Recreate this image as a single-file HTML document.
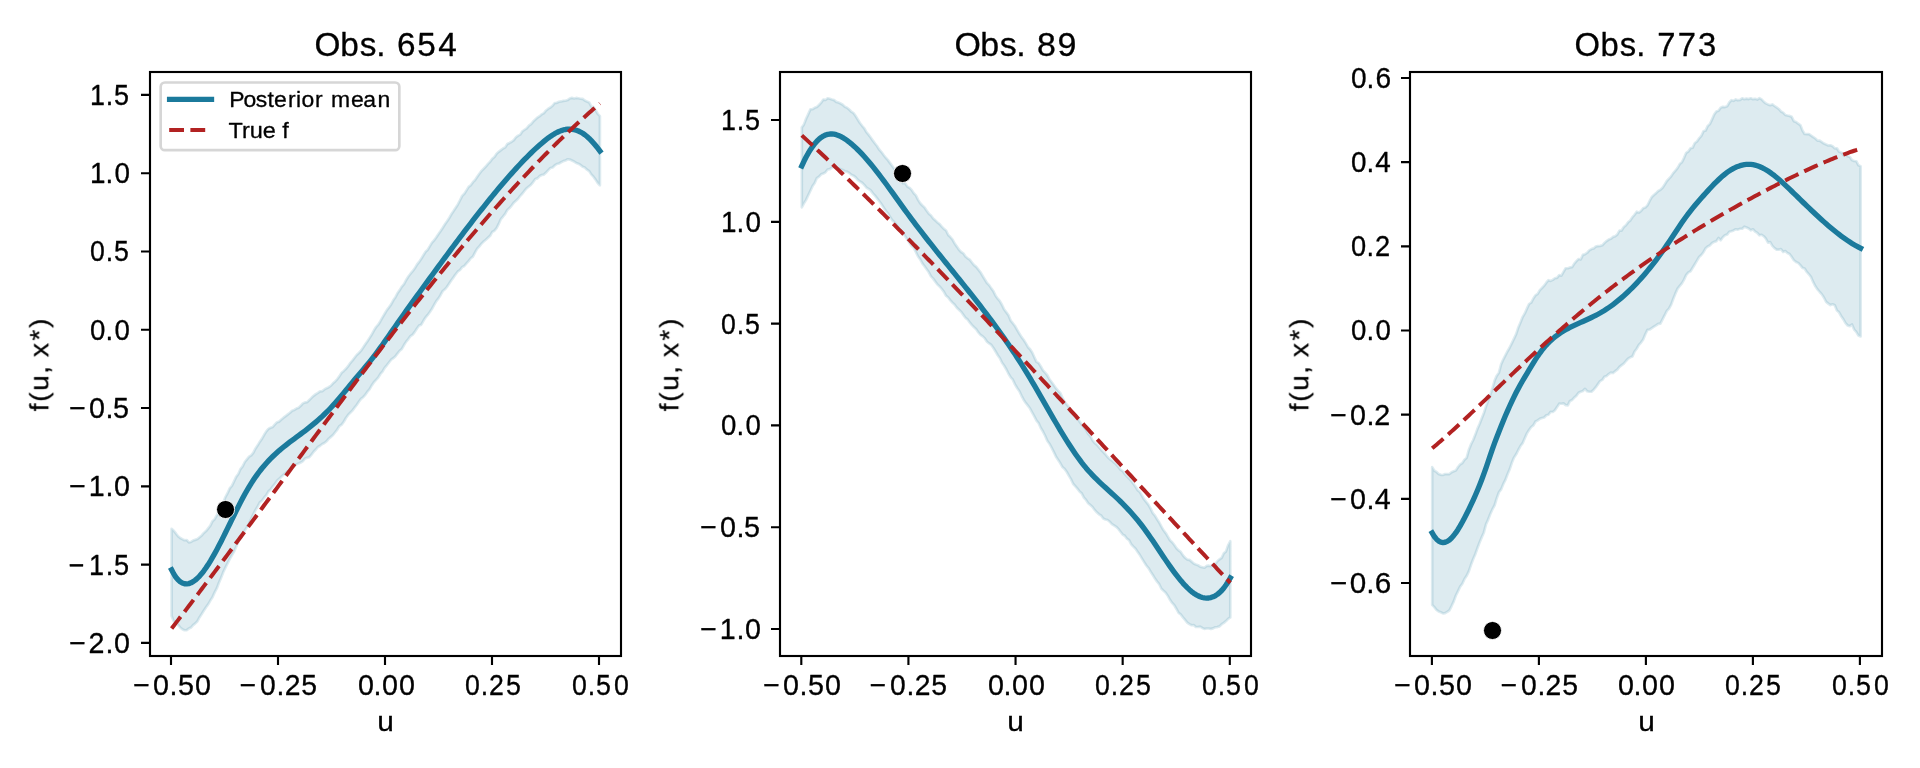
<!DOCTYPE html>
<html lang="en"><head><meta charset="utf-8"><title>Posterior mean vs true f</title>
<style>
html,body{margin:0;padding:0;background:#fff;}
body{width:1920px;height:768px;overflow:hidden;font-family:"Liberation Sans",sans-serif;}
svg{display:block;}
svg text{font-family:"Liberation Sans",sans-serif;fill:#000;stroke:#000;stroke-width:.3px;stroke-linejoin:round;}
.band{fill:#1b7a9c;fill-opacity:.15;stroke:#1b7a9c;stroke-opacity:.15;stroke-width:2.67;stroke-linejoin:round;}
.mean{fill:none;stroke:#1b7a9c;stroke-width:5.33;stroke-linecap:square;stroke-linejoin:round;}
.true{fill:none;stroke:#b22222;stroke-width:4;stroke-dasharray:14.8 6.4;stroke-linejoin:round;}
.spine{fill:none;stroke:#000;stroke-width:2.13;stroke-linejoin:miter;}
.tick{stroke:#000;stroke-width:2.13;fill:none;}
</style></head>
<body>
<svg width="1920" height="768" viewBox="0 0 1920 768">
<rect width="1920" height="768" fill="#fff"/>

<g id="panel1">
<clipPath id="clip1"><rect x="150" y="71.8" width="471" height="584"/></clipPath>
<g clip-path="url(#clip1)">
<path class="band" d="M171.6 528.85 L173.75 530.75 L175.9 533.45 L178.06 536.29 L180.21 537.99 L182.36 539.18 L184.51 540.26 L186.67 540.02 L188.82 542.37 L190.97 541.99 L193.12 540.58 L195.27 539.86 L197.43 539.11 L199.58 537.18 L201.73 535.43 L203.88 532.91 L206.04 531.04 L208.19 528.38 L210.34 525.64 L212.49 521.13 L214.65 519.2 L216.8 515.28 L218.95 510.53 L221.1 507.5 L223.25 502.5 L225.41 497.04 L227.56 493.18 L229.71 488.35 L231.86 485.93 L234.02 481.43 L236.17 476.84 L238.32 474 L240.47 469.06 L242.62 466.39 L244.78 461.99 L246.93 459.3 L249.08 456.66 L251.23 455.32 L253.39 452.68 L255.54 448.45 L257.69 445.32 L259.84 441.66 L261.99 438.65 L264.15 434.79 L266.3 431.4 L268.45 428.85 L270.6 427.71 L272.76 427.01 L274.91 424.44 L277.06 422.19 L279.21 421.59 L281.37 419.55 L283.52 417.67 L285.67 416.07 L287.82 414.42 L289.97 412.8 L292.13 410.7 L294.28 409.96 L296.43 408.54 L298.58 407.76 L300.74 405.83 L302.89 403.38 L305.04 402.41 L307.19 402.11 L309.34 399.97 L311.5 397.84 L313.65 395.85 L315.8 394.15 L317.95 392.93 L320.11 391.3 L322.26 391.14 L324.41 389.46 L326.56 388.15 L328.72 387.22 L330.87 385.75 L333.02 383.27 L335.17 381.38 L337.32 379.04 L339.48 376.16 L341.63 372.72 L343.78 370.92 L345.93 368.79 L348.09 366.18 L350.24 363.02 L352.39 360.6 L354.54 357.75 L356.69 355.01 L358.85 352.98 L361 350.64 L363.15 347.56 L365.3 344.34 L367.46 341.26 L369.61 337.86 L371.76 334.48 L373.91 330.52 L376.06 327.07 L378.22 324.68 L380.37 321.22 L382.52 317.33 L384.67 313.74 L386.83 310.14 L388.98 307.37 L391.13 304.36 L393.28 300.29 L395.44 297.17 L397.59 293.02 L399.74 290.1 L401.89 286.53 L404.04 284.05 L406.2 279.96 L408.35 276.51 L410.5 273.69 L412.65 271.19 L414.81 268.31 L416.96 264.63 L419.11 261.92 L421.26 258.71 L423.41 255.21 L425.57 251.7 L427.72 249.73 L429.87 246.12 L432.02 242.61 L434.18 240.24 L436.33 237.26 L438.48 233.98 L440.63 231.03 L442.78 227.68 L444.94 224.24 L447.09 221.29 L449.24 217.97 L451.39 214.27 L453.55 211.06 L455.7 207.67 L457.85 204.43 L460 200.24 L462.16 195.91 L464.31 193.75 L466.46 190.38 L468.61 186.9 L470.76 185.2 L472.92 182.18 L475.07 179.99 L477.22 176.8 L479.37 173.73 L481.53 170.91 L483.68 168.71 L485.83 166.53 L487.98 163.93 L490.13 161.77 L492.29 158.71 L494.44 156.95 L496.59 153.68 L498.74 151.84 L500.9 150.18 L503.05 148.5 L505.2 147.4 L507.35 144.05 L509.51 142.94 L511.66 141.74 L513.81 140.12 L515.96 137.27 L518.11 135.63 L520.27 134.61 L522.42 131.25 L524.57 129.75 L526.72 128.35 L528.88 125.71 L531.03 124.19 L533.18 121.58 L535.33 119.51 L537.48 117.54 L539.64 116.16 L541.79 114.35 L543.94 113.06 L546.09 110.42 L548.25 108.67 L550.4 107.52 L552.55 105.79 L554.7 103 L556.85 102.8 L559.01 101.79 L561.16 101.43 L563.31 100.85 L565.46 100.78 L567.62 100.09 L569.77 98.51 L571.92 97.86 L574.07 98.47 L576.23 97.93 L578.38 98.24 L580.53 98.72 L582.68 98.92 L584.83 100.55 L586.99 101.61 L589.14 102.43 L591.29 106.41 L593.44 107.1 L595.6 110.3 L597.75 113.79 L599.9 116.08 L599.9 185.36 L597.75 183.02 L595.6 179.63 L593.44 176.72 L591.29 174.38 L589.14 171.06 L586.99 169.68 L584.83 167.59 L582.68 166.86 L580.53 164.93 L578.38 163.76 L576.23 162.96 L574.07 161.58 L571.92 160.57 L569.77 159.57 L567.62 159.25 L565.46 160.54 L563.31 161.12 L561.16 162.27 L559.01 163.48 L556.85 163.99 L554.7 165.43 L552.55 167.57 L550.4 168.06 L548.25 170.16 L546.09 172.56 L543.94 174.59 L541.79 175.03 L539.64 176.04 L537.48 178.37 L535.33 178.97 L533.18 182.1 L531.03 184.66 L528.88 186.42 L526.72 188.22 L524.57 190.68 L522.42 193.53 L520.27 195.82 L518.11 198.84 L515.96 200.75 L513.81 202.63 L511.66 205.55 L509.51 208.03 L507.35 209.89 L505.2 213.81 L503.05 216.53 L500.9 219.07 L498.74 223.93 L496.59 228.2 L494.44 230.72 L492.29 231.94 L490.13 235.82 L487.98 237.8 L485.83 239.76 L483.68 241.46 L481.53 243.65 L479.37 246.31 L477.22 248.67 L475.07 252.41 L472.92 256.59 L470.76 258.31 L468.61 261.11 L466.46 263.39 L464.31 266 L462.16 267.12 L460 270 L457.85 271.45 L455.7 274.2 L453.55 277.37 L451.39 280.2 L449.24 283.42 L447.09 286.76 L444.94 289.32 L442.78 291 L440.63 294.94 L438.48 298.4 L436.33 301.05 L434.18 304.85 L432.02 308.76 L429.87 312.07 L427.72 314.96 L425.57 317.43 L423.41 320.78 L421.26 324.66 L419.11 325.54 L416.96 328.46 L414.81 331.87 L412.65 334.63 L410.5 336.07 L408.35 339.06 L406.2 341.66 L404.04 345.07 L401.89 348.94 L399.74 350.78 L397.59 353.41 L395.44 356.23 L393.28 358.14 L391.13 359.7 L388.98 362.5 L386.83 365.3 L384.67 367.82 L382.52 371.52 L380.37 373.97 L378.22 377.57 L376.06 379.88 L373.91 382.25 L371.76 385.38 L369.61 389.21 L367.46 391.66 L365.3 394.83 L363.15 397.2 L361 398.84 L358.85 401.75 L356.69 405.03 L354.54 407.67 L352.39 410.6 L350.24 412.72 L348.09 414.94 L345.93 418.01 L343.78 421.71 L341.63 424.66 L339.48 426.07 L337.32 429.57 L335.17 432.28 L333.02 435.04 L330.87 436.88 L328.72 438.69 L326.56 441.27 L324.41 443.04 L322.26 444.03 L320.11 445.77 L317.95 446.96 L315.8 449.53 L313.65 451.76 L311.5 454.66 L309.34 457.13 L307.19 457.69 L305.04 458.53 L302.89 461.19 L300.74 462.52 L298.58 463.41 L296.43 464.39 L294.28 465.56 L292.13 467.56 L289.97 469.89 L287.82 471.23 L285.67 473.06 L283.52 474.74 L281.37 476.82 L279.21 478.85 L277.06 480.72 L274.91 483.92 L272.76 486.44 L270.6 489.55 L268.45 491.38 L266.3 495.14 L264.15 497.67 L261.99 500.68 L259.84 502.41 L257.69 506.45 L255.54 510 L253.39 514.05 L251.23 518.79 L249.08 523.42 L246.93 527.1 L244.78 530.5 L242.62 534.28 L240.47 538.35 L238.32 541.67 L236.17 546.71 L234.02 551.66 L231.86 555.44 L229.71 559.04 L227.56 563.39 L225.41 567.67 L223.25 572.18 L221.1 577.67 L218.95 582.84 L216.8 588.46 L214.65 592.39 L212.49 597.29 L210.34 600.55 L208.19 604.31 L206.04 607.25 L203.88 610.49 L201.73 614.01 L199.58 617.18 L197.43 621.2 L195.27 623.42 L193.12 625.07 L190.97 627.57 L188.82 628.56 L186.67 630.13 L184.51 630.21 L182.36 629.26 L180.21 627.38 L178.06 624.84 L175.9 623.11 L173.75 621.17 L171.6 615.98Z"/>
<path class="mean" d="M171.6 569.79 L173.75 573.88 L175.9 577.2 L178.06 579.81 L180.21 581.74 L182.36 583.04 L184.51 583.76 L186.67 583.94 L188.82 583.62 L190.97 582.85 L193.12 581.67 L195.27 580.13 L197.43 578.25 L199.58 576.06 L201.73 573.57 L203.88 570.81 L206.04 567.79 L208.19 564.55 L210.34 561.1 L212.49 557.45 L214.65 553.64 L216.8 549.69 L218.95 545.61 L221.1 541.42 L223.25 537.15 L225.41 532.81 L227.56 528.43 L229.71 524.03 L231.86 519.63 L234.02 515.24 L236.17 510.9 L238.32 506.62 L240.47 502.41 L242.62 498.31 L244.78 494.33 L246.93 490.5 L249.08 486.82 L251.23 483.33 L253.39 480.01 L255.54 476.85 L257.69 473.85 L259.84 470.99 L261.99 468.28 L264.15 465.69 L266.3 463.23 L268.45 460.89 L270.6 458.65 L272.76 456.51 L274.91 454.46 L277.06 452.5 L279.21 450.6 L281.37 448.78 L283.52 447.01 L285.67 445.3 L287.82 443.62 L289.97 441.98 L292.13 440.36 L294.28 438.77 L296.43 437.18 L298.58 435.59 L300.74 434 L302.89 432.39 L305.04 430.76 L307.19 429.1 L309.34 427.41 L311.5 425.68 L313.65 423.91 L315.8 422.1 L317.95 420.24 L320.11 418.32 L322.26 416.34 L324.41 414.3 L326.56 412.19 L328.72 410 L330.87 407.74 L333.02 405.4 L335.17 402.99 L337.32 400.52 L339.48 398.01 L341.63 395.45 L343.78 392.86 L345.93 390.26 L348.09 387.64 L350.24 385.01 L352.39 382.4 L354.54 379.8 L356.69 377.23 L358.85 374.68 L361 372.15 L363.15 369.62 L365.3 367.07 L367.46 364.49 L369.61 361.86 L371.76 359.16 L373.91 356.39 L376.06 353.55 L378.22 350.65 L380.37 347.69 L382.52 344.69 L384.67 341.65 L386.83 338.58 L388.98 335.49 L391.13 332.39 L393.28 329.29 L395.44 326.2 L397.59 323.12 L399.74 320.05 L401.89 317 L404.04 313.95 L406.2 310.92 L408.35 307.9 L410.5 304.89 L412.65 301.89 L414.81 298.9 L416.96 295.91 L419.11 292.94 L421.26 289.97 L423.41 287.01 L425.57 284.05 L427.72 281.09 L429.87 278.15 L432.02 275.2 L434.18 272.26 L436.33 269.32 L438.48 266.39 L440.63 263.46 L442.78 260.54 L444.94 257.62 L447.09 254.71 L449.24 251.8 L451.39 248.91 L453.55 246.02 L455.7 243.14 L457.85 240.27 L460 237.41 L462.16 234.56 L464.31 231.72 L466.46 228.9 L468.61 226.08 L470.76 223.28 L472.92 220.49 L475.07 217.72 L477.22 214.96 L479.37 212.22 L481.53 209.5 L483.68 206.79 L485.83 204.09 L487.98 201.42 L490.13 198.76 L492.29 196.13 L494.44 193.51 L496.59 190.91 L498.74 188.33 L500.9 185.78 L503.05 183.25 L505.2 180.74 L507.35 178.25 L509.51 175.79 L511.66 173.36 L513.81 170.96 L515.96 168.59 L518.11 166.25 L520.27 163.95 L522.42 161.68 L524.57 159.45 L526.72 157.26 L528.88 155.11 L531.03 153 L533.18 150.93 L535.33 148.92 L537.48 146.95 L539.64 145.02 L541.79 143.15 L543.94 141.35 L546.09 139.61 L548.25 137.97 L550.4 136.42 L552.55 134.99 L554.7 133.68 L556.85 132.51 L559.01 131.5 L561.16 130.64 L563.31 129.97 L565.46 129.49 L567.62 129.21 L569.77 129.14 L571.92 129.28 L574.07 129.64 L576.23 130.21 L578.38 131.02 L580.53 132.04 L582.68 133.3 L584.83 134.79 L586.99 136.51 L589.14 138.45 L591.29 140.6 L593.44 142.95 L595.6 145.47 L597.75 148.16 L599.9 151"/>
<path class="true" d="M171.6 628.48 L173.75 625.69 L175.9 622.9 L178.06 620.1 L180.21 617.29 L182.36 614.49 L184.51 611.67 L186.67 608.86 L188.82 606.03 L190.97 603.21 L193.12 600.38 L195.27 597.54 L197.43 594.71 L199.58 591.87 L201.73 589.02 L203.88 586.17 L206.04 583.32 L208.19 580.46 L210.34 577.6 L212.49 574.74 L214.65 571.87 L216.8 569 L218.95 566.13 L221.1 563.26 L223.25 560.38 L225.41 557.5 L227.56 554.62 L229.71 551.73 L231.86 548.84 L234.02 545.95 L236.17 543.06 L238.32 540.16 L240.47 537.27 L242.62 534.37 L244.78 531.47 L246.93 528.57 L249.08 525.66 L251.23 522.76 L253.39 519.85 L255.54 516.94 L257.69 514.04 L259.84 511.13 L261.99 508.21 L264.15 505.3 L266.3 502.39 L268.45 499.48 L270.6 496.56 L272.76 493.65 L274.91 490.73 L277.06 487.82 L279.21 484.9 L281.37 481.99 L283.52 479.07 L285.67 476.15 L287.82 473.24 L289.97 470.32 L292.13 467.41 L294.28 464.49 L296.43 461.58 L298.58 458.67 L300.74 455.76 L302.89 452.84 L305.04 449.93 L307.19 447.02 L309.34 444.12 L311.5 441.21 L313.65 438.3 L315.8 435.4 L317.95 432.5 L320.11 429.6 L322.26 426.7 L324.41 423.8 L326.56 420.9 L328.72 418.01 L330.87 415.12 L333.02 412.23 L335.17 409.34 L337.32 406.46 L339.48 403.58 L341.63 400.7 L343.78 397.82 L345.93 394.95 L348.09 392.08 L350.24 389.21 L352.39 386.35 L354.54 383.48 L356.69 380.63 L358.85 377.77 L361 374.92 L363.15 372.07 L365.3 369.23 L367.46 366.39 L369.61 363.55 L371.76 360.72 L373.91 357.9 L376.06 355.07 L378.22 352.25 L380.37 349.44 L382.52 346.63 L384.67 343.82 L386.83 341.02 L388.98 338.23 L391.13 335.43 L393.28 332.65 L395.44 329.87 L397.59 327.09 L399.74 324.32 L401.89 321.56 L404.04 318.8 L406.2 316.04 L408.35 313.29 L410.5 310.55 L412.65 307.81 L414.81 305.08 L416.96 302.36 L419.11 299.64 L421.26 296.93 L423.41 294.22 L425.57 291.52 L427.72 288.83 L429.87 286.14 L432.02 283.46 L434.18 280.79 L436.33 278.13 L438.48 275.47 L440.63 272.82 L442.78 270.17 L444.94 267.54 L447.09 264.91 L449.24 262.29 L451.39 259.67 L453.55 257.07 L455.7 254.47 L457.85 251.88 L460 249.3 L462.16 246.72 L464.31 244.16 L466.46 241.6 L468.61 239.05 L470.76 236.51 L472.92 233.98 L475.07 231.46 L477.22 228.94 L479.37 226.44 L481.53 223.94 L483.68 221.45 L485.83 218.98 L487.98 216.51 L490.13 214.05 L492.29 211.6 L494.44 209.16 L496.59 206.73 L498.74 204.31 L500.9 201.9 L503.05 199.5 L505.2 197.11 L507.35 194.73 L509.51 192.36 L511.66 190 L513.81 187.65 L515.96 185.31 L518.11 182.99 L520.27 180.67 L522.42 178.36 L524.57 176.07 L526.72 173.79 L528.88 171.51 L531.03 169.25 L533.18 167 L535.33 164.77 L537.48 162.54 L539.64 160.33 L541.79 158.12 L543.94 155.93 L546.09 153.75 L548.25 151.59 L550.4 149.43 L552.55 147.29 L554.7 145.16 L556.85 143.04 L559.01 140.94 L561.16 138.85 L563.31 136.77 L565.46 134.7 L567.62 132.65 L569.77 130.61 L571.92 128.58 L574.07 126.56 L576.23 124.56 L578.38 122.58 L580.53 120.6 L582.68 118.64 L584.83 116.7 L586.99 114.77 L589.14 112.85 L591.29 110.94 L593.44 109.05 L595.6 107.18 L597.75 105.32 L599.9 103.47"/>
<circle cx="225.55" cy="509.5" r="9.05" fill="#000" stroke="#fff" stroke-width=".9"/>
</g>
<path class="tick" d="M171 656 v9M278 656 v9M385 656 v9M492 656 v9M599 656 v9M150 94.9 h-9M150 173.19 h-9M150 251.47 h-9M150 329.76 h-9M150 408.04 h-9M150 486.33 h-9M150 564.61 h-9M150 642.9 h-9"/>
<rect class="spine" x="150" y="72" width="471" height="584"/>
</g>
<g id="panel2">
<clipPath id="clip2"><rect x="780" y="71.8" width="471" height="584"/></clipPath>
<g clip-path="url(#clip2)">
<path class="band" d="M801.8 127.6 L803.95 124.39 L806.11 118.81 L808.26 114.14 L810.41 109.34 L812.57 109.21 L814.72 107.78 L816.87 107.06 L819.03 105 L821.18 102.66 L823.33 99.57 L825.49 99.94 L827.64 98.3 L829.79 98.72 L831.95 99.48 L834.1 100.12 L836.25 101.88 L838.41 102.54 L840.56 103.53 L842.71 104.73 L844.87 106.87 L847.02 107.66 L849.17 109.51 L851.33 111.73 L853.48 113.05 L855.63 116.05 L857.78 119.5 L859.94 123.03 L862.09 125.79 L864.24 128.26 L866.4 132.11 L868.55 134.65 L870.7 137.58 L872.86 140.63 L875.01 143.54 L877.16 146.28 L879.32 149.66 L881.47 152.04 L883.62 155.1 L885.78 157.77 L887.93 160.12 L890.08 163.1 L892.24 166.04 L894.39 169.02 L896.54 172.32 L898.7 176.01 L900.85 180.09 L903 183.16 L905.16 183.29 L907.31 186.61 L909.46 187.81 L911.62 189.89 L913.77 193.25 L915.92 195.43 L918.08 199.87 L920.23 203.25 L922.38 205.48 L924.54 207.41 L926.69 210.69 L928.84 213.63 L931 215.54 L933.15 218.56 L935.3 220.37 L937.46 222.52 L939.61 224.06 L941.76 226.66 L943.92 228.96 L946.07 230.49 L948.22 235.03 L950.38 237.03 L952.53 239.51 L954.68 243.57 L956.84 246.61 L958.99 249.79 L961.14 252.01 L963.29 253.34 L965.45 256.52 L967.6 258.31 L969.75 259.64 L971.91 262.45 L974.06 265.15 L976.21 266.86 L978.37 269.57 L980.52 272.3 L982.67 275.95 L984.83 279.5 L986.98 283.02 L989.13 285.13 L991.29 288.37 L993.44 291.34 L995.59 295.67 L997.75 298.7 L999.9 301.18 L1002.05 304.97 L1004.21 309.56 L1006.36 312.35 L1008.51 315.28 L1010.67 320.61 L1012.82 323.19 L1014.97 326 L1017.13 329.81 L1019.28 333.45 L1021.43 336.92 L1023.59 339.82 L1025.74 343.12 L1027.89 346.97 L1030.05 349.22 L1032.2 352.54 L1034.35 357.24 L1036.51 361.93 L1038.66 363.09 L1040.81 366.48 L1042.97 370.35 L1045.12 372.72 L1047.27 375.24 L1049.43 379.2 L1051.58 381.99 L1053.73 385.04 L1055.89 388.21 L1058.04 390.7 L1060.19 392.89 L1062.35 397.61 L1064.5 401.72 L1066.65 404.36 L1068.81 406.95 L1070.96 410.2 L1073.11 412.91 L1075.26 414.85 L1077.42 417.71 L1079.57 421.62 L1081.72 424.56 L1083.88 426.85 L1086.03 429.61 L1088.18 433.92 L1090.34 436.06 L1092.49 440.24 L1094.64 442.9 L1096.8 444.61 L1098.95 447.16 L1101.1 449.75 L1103.26 452.07 L1105.41 454.2 L1107.56 456.97 L1109.72 459.14 L1111.87 460.5 L1114.02 462.49 L1116.18 464.36 L1118.33 466.87 L1120.48 469.71 L1122.64 471.02 L1124.79 473.98 L1126.94 476.42 L1129.1 478.59 L1131.25 480.67 L1133.4 483.83 L1135.56 486.8 L1137.71 490.18 L1139.86 492.06 L1142.02 495.72 L1144.17 499.46 L1146.32 502.06 L1148.48 504.85 L1150.63 508.69 L1152.78 513.15 L1154.94 515.68 L1157.09 519.23 L1159.24 522.57 L1161.4 526.54 L1163.55 530.3 L1165.7 533.06 L1167.86 536.63 L1170.01 540.29 L1172.16 542.2 L1174.32 545.07 L1176.47 548.2 L1178.62 550.38 L1180.77 551.93 L1182.93 555.34 L1185.08 557.76 L1187.23 559.57 L1189.39 559.84 L1191.54 561.6 L1193.69 563.44 L1195.85 564.42 L1198 565.15 L1200.15 566.67 L1202.31 567.21 L1204.46 567.73 L1206.61 565.95 L1208.77 565.69 L1210.92 566.09 L1213.07 564.52 L1215.23 564.09 L1217.38 561.19 L1219.53 559.35 L1221.69 557.86 L1223.84 553.29 L1225.99 551.38 L1228.15 545.27 L1230.3 541.16 L1230.3 617.4 L1228.15 618.8 L1225.99 621.07 L1223.84 622.87 L1221.69 624.19 L1219.53 626.36 L1217.38 627.06 L1215.23 627.24 L1213.07 628.36 L1210.92 628.91 L1208.77 628.49 L1206.61 628.54 L1204.46 628.89 L1202.31 627.98 L1200.15 626.64 L1198 626.99 L1195.85 626.99 L1193.69 625.1 L1191.54 625.21 L1189.39 624.07 L1187.23 622.57 L1185.08 619.95 L1182.93 617.35 L1180.77 614.43 L1178.62 612.98 L1176.47 608.97 L1174.32 605.25 L1172.16 602.92 L1170.01 599.84 L1167.86 595.88 L1165.7 592.64 L1163.55 590.8 L1161.4 588.78 L1159.24 584.2 L1157.09 581.62 L1154.94 578.59 L1152.78 574.96 L1150.63 571.68 L1148.48 568.05 L1146.32 565.5 L1144.17 562.14 L1142.02 558.64 L1139.86 555.1 L1137.71 551.9 L1135.56 548.75 L1133.4 546.62 L1131.25 544.33 L1129.1 540.17 L1126.94 538.71 L1124.79 535.78 L1122.64 534.54 L1120.48 531.7 L1118.33 528.88 L1116.18 526.82 L1114.02 525.41 L1111.87 524.09 L1109.72 521.68 L1107.56 519.99 L1105.41 519.47 L1103.26 518.57 L1101.1 515.5 L1098.95 514.34 L1096.8 512.3 L1094.64 509.92 L1092.49 506.94 L1090.34 505.06 L1088.18 503.16 L1086.03 499.94 L1083.88 497.56 L1081.72 493.39 L1079.57 491.58 L1077.42 488.64 L1075.26 486.13 L1073.11 483.75 L1070.96 479.15 L1068.81 475.62 L1066.65 471.73 L1064.5 468.84 L1062.35 466.96 L1060.19 463.08 L1058.04 459.78 L1055.89 456.43 L1053.73 451.89 L1051.58 447.66 L1049.43 443.73 L1047.27 440.81 L1045.12 435.74 L1042.97 431.54 L1040.81 427.96 L1038.66 423.21 L1036.51 420.6 L1034.35 416.45 L1032.2 412.58 L1030.05 408.51 L1027.89 405.62 L1025.74 402.89 L1023.59 399.73 L1021.43 395.54 L1019.28 391.02 L1017.13 387.98 L1014.97 384.33 L1012.82 379.71 L1010.67 377.28 L1008.51 373.73 L1006.36 369.46 L1004.21 365.73 L1002.05 362.78 L999.9 358.2 L997.75 355.25 L995.59 351.54 L993.44 347.97 L991.29 344.95 L989.13 343.42 L986.98 341.7 L984.83 338.4 L982.67 336.35 L980.52 334.99 L978.37 332.39 L976.21 329.21 L974.06 327.27 L971.91 325.1 L969.75 322.44 L967.6 319.41 L965.45 317.83 L963.29 314.85 L961.14 311.84 L958.99 309.72 L956.84 307.7 L954.68 304.73 L952.53 302.75 L950.38 300.39 L948.22 297.46 L946.07 295.78 L943.92 291.85 L941.76 288.99 L939.61 286.41 L937.46 284.52 L935.3 281.64 L933.15 278.62 L931 276.42 L928.84 272.27 L926.69 269.3 L924.54 266.23 L922.38 263.41 L920.23 259.38 L918.08 256.5 L915.92 252.2 L913.77 247.86 L911.62 245.9 L909.46 242.88 L907.31 239.44 L905.16 236.19 L903 233.02 L900.85 230.38 L898.7 228.45 L896.54 224.82 L894.39 222.23 L892.24 220.17 L890.08 217.06 L887.93 213.27 L885.78 210.77 L883.62 207.5 L881.47 204.15 L879.32 201.31 L877.16 198.41 L875.01 195.68 L872.86 193.35 L870.7 190.35 L868.55 188.83 L866.4 187.53 L864.24 184.85 L862.09 182.74 L859.94 181.47 L857.78 179.84 L855.63 177.37 L853.48 175.65 L851.33 174.85 L849.17 172.88 L847.02 171.64 L844.87 171.19 L842.71 170.04 L840.56 169.2 L838.41 168.31 L836.25 167.45 L834.1 166.66 L831.95 167.55 L829.79 169.07 L827.64 169.53 L825.49 172.29 L823.33 173.5 L821.18 174.3 L819.03 176.67 L816.87 178.05 L814.72 182.96 L812.57 186.08 L810.41 190.73 L808.26 195.27 L806.11 199.85 L803.95 203.35 L801.8 207.3Z"/>
<path class="mean" d="M801.8 165.91 L803.95 161.31 L806.11 157.07 L808.26 153.19 L810.41 149.67 L812.57 146.51 L814.72 143.7 L816.87 141.26 L819.03 139.17 L821.18 137.44 L823.33 136.06 L825.49 135.03 L827.64 134.36 L829.79 134.01 L831.95 133.96 L834.1 134.2 L836.25 134.7 L838.41 135.45 L840.56 136.41 L842.71 137.57 L844.87 138.92 L847.02 140.42 L849.17 142.05 L851.33 143.81 L853.48 145.67 L855.63 147.65 L857.78 149.72 L859.94 151.89 L862.09 154.16 L864.24 156.51 L866.4 158.93 L868.55 161.44 L870.7 164.01 L872.86 166.65 L875.01 169.35 L877.16 172.1 L879.32 174.9 L881.47 177.74 L883.62 180.62 L885.78 183.53 L887.93 186.47 L890.08 189.44 L892.24 192.41 L894.39 195.4 L896.54 198.4 L898.7 201.39 L900.85 204.39 L903 207.37 L905.16 210.33 L907.31 213.28 L909.46 216.2 L911.62 219.09 L913.77 221.96 L915.92 224.81 L918.08 227.64 L920.23 230.44 L922.38 233.23 L924.54 236 L926.69 238.75 L928.84 241.49 L931 244.22 L933.15 246.93 L935.3 249.64 L937.46 252.33 L939.61 255.02 L941.76 257.69 L943.92 260.37 L946.07 263.03 L948.22 265.7 L950.38 268.36 L952.53 271.03 L954.68 273.69 L956.84 276.36 L958.99 279.03 L961.14 281.71 L963.29 284.39 L965.45 287.08 L967.6 289.78 L969.75 292.48 L971.91 295.2 L974.06 297.94 L976.21 300.69 L978.37 303.45 L980.52 306.23 L982.67 309.03 L984.83 311.84 L986.98 314.68 L989.13 317.54 L991.29 320.43 L993.44 323.34 L995.59 326.28 L997.75 329.24 L999.9 332.24 L1002.05 335.26 L1004.21 338.32 L1006.36 341.41 L1008.51 344.54 L1010.67 347.71 L1012.82 350.91 L1014.97 354.15 L1017.13 357.44 L1019.28 360.77 L1021.43 364.15 L1023.59 367.58 L1025.74 371.05 L1027.89 374.58 L1030.05 378.16 L1032.2 381.79 L1034.35 385.45 L1036.51 389.14 L1038.66 392.87 L1040.81 396.61 L1042.97 400.36 L1045.12 404.12 L1047.27 407.88 L1049.43 411.63 L1051.58 415.36 L1053.73 419.08 L1055.89 422.77 L1058.04 426.43 L1060.19 430.04 L1062.35 433.61 L1064.5 437.13 L1066.65 440.58 L1068.81 443.97 L1070.96 447.29 L1073.11 450.53 L1075.26 453.68 L1077.42 456.74 L1079.57 459.69 L1081.72 462.55 L1083.88 465.29 L1086.03 467.91 L1088.18 470.41 L1090.34 472.81 L1092.49 475.12 L1094.64 477.34 L1096.8 479.48 L1098.95 481.57 L1101.1 483.6 L1103.26 485.6 L1105.41 487.57 L1107.56 489.52 L1109.72 491.46 L1111.87 493.41 L1114.02 495.38 L1116.18 497.37 L1118.33 499.4 L1120.48 501.48 L1122.64 503.61 L1124.79 505.8 L1126.94 508.04 L1129.1 510.35 L1131.25 512.72 L1133.4 515.17 L1135.56 517.69 L1137.71 520.29 L1139.86 522.98 L1142.02 525.75 L1144.17 528.61 L1146.32 531.56 L1148.48 534.6 L1150.63 537.7 L1152.78 540.85 L1154.94 544.04 L1157.09 547.25 L1159.24 550.48 L1161.4 553.71 L1163.55 556.93 L1165.7 560.12 L1167.86 563.27 L1170.01 566.37 L1172.16 569.4 L1174.32 572.35 L1176.47 575.21 L1178.62 577.96 L1180.77 580.59 L1182.93 583.1 L1185.08 585.45 L1187.23 587.65 L1189.39 589.68 L1191.54 591.52 L1193.69 593.16 L1195.85 594.59 L1198 595.8 L1200.15 596.77 L1202.31 597.49 L1204.46 597.94 L1206.61 598.12 L1208.77 598 L1210.92 597.58 L1213.07 596.85 L1215.23 595.78 L1217.38 594.38 L1219.53 592.61 L1221.69 590.48 L1223.84 587.96 L1225.99 585.04 L1228.15 581.72 L1230.3 577.97"/>
<path class="true" d="M801.8 135.39 L803.95 137.38 L806.11 139.38 L808.26 141.38 L810.41 143.39 L812.57 145.4 L814.72 147.41 L816.87 149.43 L819.03 151.46 L821.18 153.49 L823.33 155.52 L825.49 157.56 L827.64 159.61 L829.79 161.65 L831.95 163.7 L834.1 165.76 L836.25 167.82 L838.41 169.89 L840.56 171.96 L842.71 174.03 L844.87 176.11 L847.02 178.19 L849.17 180.27 L851.33 182.36 L853.48 184.46 L855.63 186.55 L857.78 188.66 L859.94 190.76 L862.09 192.87 L864.24 194.98 L866.4 197.1 L868.55 199.22 L870.7 201.35 L872.86 203.47 L875.01 205.61 L877.16 207.74 L879.32 209.88 L881.47 212.02 L883.62 214.17 L885.78 216.32 L887.93 218.47 L890.08 220.63 L892.24 222.79 L894.39 224.96 L896.54 227.12 L898.7 229.29 L900.85 231.47 L903 233.64 L905.16 235.82 L907.31 238.01 L909.46 240.19 L911.62 242.38 L913.77 244.58 L915.92 246.77 L918.08 248.97 L920.23 251.17 L922.38 253.38 L924.54 255.59 L926.69 257.8 L928.84 260.01 L931 262.23 L933.15 264.45 L935.3 266.67 L937.46 268.89 L939.61 271.12 L941.76 273.35 L943.92 275.58 L946.07 277.82 L948.22 280.06 L950.38 282.3 L952.53 284.54 L954.68 286.79 L956.84 289.03 L958.99 291.29 L961.14 293.54 L963.29 295.79 L965.45 298.05 L967.6 300.31 L969.75 302.57 L971.91 304.84 L974.06 307.1 L976.21 309.37 L978.37 311.64 L980.52 313.91 L982.67 316.19 L984.83 318.46 L986.98 320.74 L989.13 323.02 L991.29 325.31 L993.44 327.59 L995.59 329.88 L997.75 332.16 L999.9 334.45 L1002.05 336.75 L1004.21 339.04 L1006.36 341.33 L1008.51 343.63 L1010.67 345.93 L1012.82 348.23 L1014.97 350.53 L1017.13 352.83 L1019.28 355.14 L1021.43 357.44 L1023.59 359.75 L1025.74 362.06 L1027.89 364.37 L1030.05 366.68 L1032.2 368.99 L1034.35 371.3 L1036.51 373.62 L1038.66 375.93 L1040.81 378.25 L1042.97 380.57 L1045.12 382.89 L1047.27 385.21 L1049.43 387.53 L1051.58 389.85 L1053.73 392.18 L1055.89 394.5 L1058.04 396.83 L1060.19 399.15 L1062.35 401.48 L1064.5 403.81 L1066.65 406.13 L1068.81 408.46 L1070.96 410.79 L1073.11 413.12 L1075.26 415.45 L1077.42 417.79 L1079.57 420.12 L1081.72 422.45 L1083.88 424.78 L1086.03 427.12 L1088.18 429.45 L1090.34 431.79 L1092.49 434.12 L1094.64 436.46 L1096.8 438.79 L1098.95 441.13 L1101.1 443.46 L1103.26 445.8 L1105.41 448.13 L1107.56 450.47 L1109.72 452.81 L1111.87 455.14 L1114.02 457.48 L1116.18 459.82 L1118.33 462.15 L1120.48 464.49 L1122.64 466.83 L1124.79 469.16 L1126.94 471.5 L1129.1 473.83 L1131.25 476.17 L1133.4 478.5 L1135.56 480.84 L1137.71 483.17 L1139.86 485.51 L1142.02 487.84 L1144.17 490.17 L1146.32 492.51 L1148.48 494.84 L1150.63 497.17 L1152.78 499.5 L1154.94 501.83 L1157.09 504.16 L1159.24 506.49 L1161.4 508.82 L1163.55 511.15 L1165.7 513.48 L1167.86 515.8 L1170.01 518.13 L1172.16 520.45 L1174.32 522.78 L1176.47 525.1 L1178.62 527.42 L1180.77 529.74 L1182.93 532.06 L1185.08 534.38 L1187.23 536.7 L1189.39 539.01 L1191.54 541.33 L1193.69 543.64 L1195.85 545.95 L1198 548.27 L1200.15 550.58 L1202.31 552.88 L1204.46 555.19 L1206.61 557.5 L1208.77 559.8 L1210.92 562.11 L1213.07 564.41 L1215.23 566.71 L1217.38 569.01 L1219.53 571.3 L1221.69 573.6 L1223.84 575.89 L1225.99 578.18 L1228.15 580.48 L1230.3 582.76"/>
<circle cx="902.5" cy="173.5" r="9.05" fill="#000" stroke="#fff" stroke-width=".9"/>
</g>
<path class="tick" d="M801.3 656 v9M908.42 656 v9M1015.55 656 v9M1122.67 656 v9M1229.8 656 v9M780 120.05 h-9M780 221.84 h-9M780 323.63 h-9M780 425.42 h-9M780 527.21 h-9M780 629 h-9"/>
<rect class="spine" x="780" y="72" width="471" height="584"/>
</g>
<g id="panel3">
<clipPath id="clip3"><rect x="1410.25" y="71.8" width="471" height="584"/></clipPath>
<g clip-path="url(#clip3)">
<path class="band" d="M1432.2 467.1 L1434.35 470.76 L1436.51 471.92 L1438.66 473.97 L1440.81 474.84 L1442.96 474.97 L1445.12 474.09 L1447.27 474.1 L1449.42 474.06 L1451.57 472.17 L1453.73 471.19 L1455.88 470.4 L1458.03 467.02 L1460.19 464.42 L1462.34 463.06 L1464.49 459.84 L1466.64 457.87 L1468.8 449.97 L1470.95 444.42 L1473.1 440.26 L1475.26 434.87 L1477.41 428.89 L1479.56 424.06 L1481.71 418.43 L1483.87 413.03 L1486.02 406.32 L1488.17 400.55 L1490.32 394.81 L1492.48 388.23 L1494.63 380.54 L1496.78 375.66 L1498.94 372.66 L1501.09 364.33 L1503.24 359.56 L1505.39 355.35 L1507.55 351.23 L1509.7 347.52 L1511.85 343.1 L1514.01 338.69 L1516.16 334.12 L1518.31 327.52 L1520.46 322.44 L1522.62 317.09 L1524.77 313.43 L1526.92 308.65 L1529.07 304 L1531.23 302.61 L1533.38 298.5 L1535.53 295.26 L1537.69 293.88 L1539.84 290.14 L1541.99 288 L1544.14 285.67 L1546.3 282.74 L1548.45 280.22 L1550.6 280.91 L1552.75 279.88 L1554.91 278.22 L1557.06 277.87 L1559.21 275.11 L1561.37 275.64 L1563.52 271.82 L1565.67 268.23 L1567.82 268.24 L1569.98 267.41 L1572.13 267.1 L1574.28 263.66 L1576.44 261.11 L1578.59 259.02 L1580.74 259.54 L1582.89 254.87 L1585.05 254.21 L1587.2 252.76 L1589.35 250.34 L1591.5 249.06 L1593.66 248.4 L1595.81 246.59 L1597.96 246.06 L1600.12 245.9 L1602.27 245.31 L1604.42 243.04 L1606.57 241.1 L1608.73 239.61 L1610.88 238.82 L1613.03 236.9 L1615.18 236.28 L1617.34 234.45 L1619.49 230.69 L1621.64 230.57 L1623.8 227.03 L1625.95 225.22 L1628.1 222.37 L1630.25 220.45 L1632.41 217.15 L1634.56 214.8 L1636.71 211.66 L1638.87 212.59 L1641.02 210.97 L1643.17 208.34 L1645.32 207.56 L1647.48 205.32 L1649.63 200.98 L1651.78 197.04 L1653.93 194.95 L1656.09 193.11 L1658.24 190.96 L1660.39 189.8 L1662.55 187.79 L1664.7 184.48 L1666.85 180.99 L1669 178.65 L1671.16 176.36 L1673.31 173.09 L1675.46 170.56 L1677.62 167.93 L1679.77 164.11 L1681.92 162.25 L1684.07 157.83 L1686.23 152.83 L1688.38 151.5 L1690.53 148.27 L1692.68 147.68 L1694.84 143 L1696.99 141.51 L1699.14 138.35 L1701.3 135.96 L1703.45 131.36 L1705.6 130.6 L1707.75 125.91 L1709.91 124.05 L1712.06 119.35 L1714.21 114.45 L1716.36 111.5 L1718.52 110.79 L1720.67 107.7 L1722.82 106.82 L1724.98 107.11 L1727.13 106.34 L1729.28 102.48 L1731.43 100.17 L1733.59 100.81 L1735.74 99.46 L1737.89 100.29 L1740.05 99.89 L1742.2 98.33 L1744.35 99.13 L1746.5 98.62 L1748.66 99.09 L1750.81 98.26 L1752.96 99.18 L1755.11 98.83 L1757.27 99.55 L1759.42 98.14 L1761.57 99.33 L1763.73 101.67 L1765.88 103.41 L1768.03 104.41 L1770.18 105.18 L1772.34 104.45 L1774.49 105.97 L1776.64 107.46 L1778.79 108.97 L1780.95 111.48 L1783.1 112.61 L1785.25 114.97 L1787.41 115.54 L1789.56 115.92 L1791.71 116.83 L1793.86 121.15 L1796.02 121.92 L1798.17 123.63 L1800.32 125.02 L1802.48 130.53 L1804.63 134.04 L1806.78 134.05 L1808.93 134.11 L1811.09 135.55 L1813.24 137.03 L1815.39 138.52 L1817.54 140.64 L1819.7 140.63 L1821.85 142.09 L1824 143.55 L1826.16 144.55 L1828.31 145.42 L1830.46 145.27 L1832.61 146.14 L1834.77 148.44 L1836.92 148.27 L1839.07 151.79 L1841.23 152.44 L1843.38 155 L1845.53 153.58 L1847.68 156.35 L1849.84 157.1 L1851.99 160.13 L1854.14 161.01 L1856.29 161.21 L1858.45 165.3 L1860.6 166.19 L1860.6 336.46 L1858.45 335.57 L1856.29 331.93 L1854.14 329.53 L1851.99 324.43 L1849.84 326.12 L1847.68 325.48 L1845.53 323.11 L1843.38 319.37 L1841.23 316.24 L1839.07 312.3 L1836.92 310.44 L1834.77 305.29 L1832.61 304.34 L1830.46 305.12 L1828.31 303.59 L1826.16 301.89 L1824 297.75 L1821.85 294.34 L1819.7 291.99 L1817.54 289.45 L1815.39 286.28 L1813.24 282.22 L1811.09 277.16 L1808.93 274.29 L1806.78 271.96 L1804.63 268.5 L1802.48 267.91 L1800.32 265.14 L1798.17 262.9 L1796.02 261.96 L1793.86 260.25 L1791.71 256.92 L1789.56 254.04 L1787.41 253.03 L1785.25 251.08 L1783.1 251.88 L1780.95 249.03 L1778.79 249.66 L1776.64 249.64 L1774.49 248.09 L1772.34 245.86 L1770.18 242.08 L1768.03 242.6 L1765.88 238.71 L1763.73 236.23 L1761.57 234.75 L1759.42 235.32 L1757.27 232.86 L1755.11 231.62 L1752.96 229.26 L1750.81 230.3 L1748.66 228.49 L1746.5 227.51 L1744.35 226.7 L1742.2 228.73 L1740.05 228.74 L1737.89 229.63 L1735.74 229.25 L1733.59 230.45 L1731.43 231.29 L1729.28 231.69 L1727.13 234.59 L1724.98 235.35 L1722.82 237.16 L1720.67 240.27 L1718.52 237.93 L1716.36 241.26 L1714.21 241.86 L1712.06 242.99 L1709.91 245.3 L1707.75 246.5 L1705.6 248.27 L1703.45 252.21 L1701.3 254.97 L1699.14 256.98 L1696.99 260.61 L1694.84 264.24 L1692.68 267.79 L1690.53 271.3 L1688.38 272.39 L1686.23 274.9 L1684.07 279.59 L1681.92 283.31 L1679.77 285.93 L1677.62 288.63 L1675.46 293.42 L1673.31 298.8 L1671.16 304.65 L1669 308.57 L1666.85 310.81 L1664.7 315.22 L1662.55 319.27 L1660.39 323.56 L1658.24 323.87 L1656.09 325.37 L1653.93 326.7 L1651.78 328.1 L1649.63 329.51 L1647.48 329.93 L1645.32 334.26 L1643.17 339.48 L1641.02 342.61 L1638.87 344.95 L1636.71 348.78 L1634.56 351.5 L1632.41 356.54 L1630.25 357.31 L1628.1 358.65 L1625.95 360.99 L1623.8 363.57 L1621.64 365.13 L1619.49 366.9 L1617.34 369.57 L1615.18 371.17 L1613.03 373.05 L1610.88 372.62 L1608.73 374.04 L1606.57 375.89 L1604.42 376.69 L1602.27 379.92 L1600.12 381.08 L1597.96 384.14 L1595.81 387.19 L1593.66 389.67 L1591.5 391.65 L1589.35 391.72 L1587.2 391.26 L1585.05 388.8 L1582.89 390.95 L1580.74 391.69 L1578.59 392.8 L1576.44 395.64 L1574.28 397.53 L1572.13 399.97 L1569.98 400.9 L1567.82 405.3 L1565.67 405.1 L1563.52 403.41 L1561.37 403.78 L1559.21 403.69 L1557.06 407.1 L1554.91 410.2 L1552.75 411.97 L1550.6 411.88 L1548.45 414.69 L1546.3 415.22 L1544.14 417.45 L1541.99 417.94 L1539.84 418.85 L1537.69 420.3 L1535.53 421.51 L1533.38 425.37 L1531.23 426.96 L1529.07 429.94 L1526.92 433.37 L1524.77 438.34 L1522.62 443.17 L1520.46 446.05 L1518.31 450.01 L1516.16 454.3 L1514.01 457.61 L1511.85 462.86 L1509.7 469.34 L1507.55 474.27 L1505.39 479.95 L1503.24 484.22 L1501.09 489.41 L1498.94 492.33 L1496.78 498.17 L1494.63 505.25 L1492.48 509.22 L1490.32 514.04 L1488.17 519.58 L1486.02 524.32 L1483.87 532.42 L1481.71 537.34 L1479.56 542.44 L1477.41 548.3 L1475.26 554.32 L1473.1 559.33 L1470.95 565.06 L1468.8 571.44 L1466.64 575.8 L1464.49 578.96 L1462.34 583.72 L1460.19 586.59 L1458.03 591.13 L1455.88 595.52 L1453.73 601.4 L1451.57 606.06 L1449.42 610.3 L1447.27 611.87 L1445.12 613.09 L1442.96 613.45 L1440.81 612.29 L1438.66 611.4 L1436.51 609.88 L1434.35 607.21 L1432.2 604.9Z"/>
<path class="mean" d="M1432.2 532.97 L1434.35 536.51 L1436.51 539.18 L1438.66 541.04 L1440.81 542.14 L1442.96 542.53 L1445.12 542.26 L1447.27 541.37 L1449.42 539.92 L1451.57 537.95 L1453.73 535.51 L1455.88 532.65 L1458.03 529.43 L1460.19 525.88 L1462.34 522.06 L1464.49 518.02 L1466.64 513.8 L1468.8 509.45 L1470.95 504.96 L1473.1 500.31 L1475.26 495.48 L1477.41 490.45 L1479.56 485.2 L1481.71 479.7 L1483.87 473.93 L1486.02 467.87 L1488.17 461.52 L1490.32 455.07 L1492.48 448.83 L1494.63 442.93 L1496.78 437.25 L1498.94 431.69 L1501.09 426.27 L1503.24 420.98 L1505.39 415.83 L1507.55 410.84 L1509.7 406.01 L1511.85 401.34 L1514.01 396.86 L1516.16 392.56 L1518.31 388.45 L1520.46 384.53 L1522.62 380.76 L1524.77 377.1 L1526.92 373.52 L1529.07 369.97 L1531.23 366.43 L1533.38 362.9 L1535.53 359.46 L1537.69 356.16 L1539.84 353.07 L1541.99 350.19 L1544.14 347.53 L1546.3 345.07 L1548.45 342.79 L1550.6 340.69 L1552.75 338.75 L1554.91 336.96 L1557.06 335.3 L1559.21 333.77 L1561.37 332.34 L1563.52 331.01 L1565.67 329.77 L1567.82 328.6 L1569.98 327.48 L1572.13 326.41 L1574.28 325.37 L1576.44 324.37 L1578.59 323.39 L1580.74 322.42 L1582.89 321.46 L1585.05 320.49 L1587.2 319.52 L1589.35 318.52 L1591.5 317.51 L1593.66 316.46 L1595.81 315.37 L1597.96 314.23 L1600.12 313.03 L1602.27 311.77 L1604.42 310.45 L1606.57 309.06 L1608.73 307.61 L1610.88 306.1 L1613.03 304.53 L1615.18 302.89 L1617.34 301.19 L1619.49 299.43 L1621.64 297.6 L1623.8 295.71 L1625.95 293.76 L1628.1 291.75 L1630.25 289.68 L1632.41 287.54 L1634.56 285.35 L1636.71 283.09 L1638.87 280.77 L1641.02 278.39 L1643.17 275.95 L1645.32 273.45 L1647.48 270.89 L1649.63 268.26 L1651.78 265.58 L1653.93 262.84 L1656.09 260.04 L1658.24 257.17 L1660.39 254.25 L1662.55 251.27 L1664.7 248.23 L1666.85 245.13 L1669 241.97 L1671.16 238.76 L1673.31 235.51 L1675.46 232.25 L1677.62 228.99 L1679.77 225.77 L1681.92 222.6 L1684.07 219.5 L1686.23 216.5 L1688.38 213.61 L1690.53 210.83 L1692.68 208.14 L1694.84 205.52 L1696.99 202.98 L1699.14 200.48 L1701.3 198.03 L1703.45 195.61 L1705.6 193.21 L1707.75 190.84 L1709.91 188.5 L1712.06 186.21 L1714.21 183.97 L1716.36 181.81 L1718.52 179.73 L1720.67 177.74 L1722.82 175.85 L1724.98 174.08 L1727.13 172.43 L1729.28 170.92 L1731.43 169.56 L1733.59 168.35 L1735.74 167.3 L1737.89 166.4 L1740.05 165.66 L1742.2 165.09 L1744.35 164.68 L1746.5 164.43 L1748.66 164.35 L1750.81 164.44 L1752.96 164.7 L1755.11 165.14 L1757.27 165.74 L1759.42 166.52 L1761.57 167.44 L1763.73 168.52 L1765.88 169.73 L1768.03 171.06 L1770.18 172.51 L1772.34 174.07 L1774.49 175.72 L1776.64 177.47 L1778.79 179.28 L1780.95 181.17 L1783.1 183.11 L1785.25 185.1 L1787.41 187.13 L1789.56 189.19 L1791.71 191.27 L1793.86 193.35 L1796.02 195.44 L1798.17 197.53 L1800.32 199.62 L1802.48 201.71 L1804.63 203.79 L1806.78 205.87 L1808.93 207.93 L1811.09 209.98 L1813.24 212.01 L1815.39 214.03 L1817.54 216.03 L1819.7 218.01 L1821.85 219.96 L1824 221.89 L1826.16 223.78 L1828.31 225.65 L1830.46 227.48 L1832.61 229.27 L1834.77 231.03 L1836.92 232.74 L1839.07 234.42 L1841.23 236.04 L1843.38 237.62 L1845.53 239.15 L1847.68 240.63 L1849.84 242.05 L1851.99 243.41 L1854.14 244.71 L1856.29 245.96 L1858.45 247.13 L1860.6 248.24"/>
<path class="true" d="M1432.2 448.34 L1434.35 446.52 L1436.51 444.69 L1438.66 442.84 L1440.81 440.97 L1442.96 439.08 L1445.12 437.18 L1447.27 435.26 L1449.42 433.33 L1451.57 431.39 L1453.73 429.43 L1455.88 427.46 L1458.03 425.48 L1460.19 423.49 L1462.34 421.49 L1464.49 419.48 L1466.64 417.47 L1468.8 415.44 L1470.95 413.41 L1473.1 411.38 L1475.26 409.33 L1477.41 407.29 L1479.56 405.24 L1481.71 403.18 L1483.87 401.13 L1486.02 399.07 L1488.17 397.01 L1490.32 394.95 L1492.48 392.88 L1494.63 390.82 L1496.78 388.76 L1498.94 386.7 L1501.09 384.64 L1503.24 382.58 L1505.39 380.52 L1507.55 378.47 L1509.7 376.42 L1511.85 374.37 L1514.01 372.33 L1516.16 370.29 L1518.31 368.25 L1520.46 366.22 L1522.62 364.2 L1524.77 362.18 L1526.92 360.16 L1529.07 358.15 L1531.23 356.15 L1533.38 354.16 L1535.53 352.17 L1537.69 350.19 L1539.84 348.21 L1541.99 346.25 L1544.14 344.29 L1546.3 342.34 L1548.45 340.39 L1550.6 338.46 L1552.75 336.53 L1554.91 334.62 L1557.06 332.71 L1559.21 330.81 L1561.37 328.92 L1563.52 327.04 L1565.67 325.17 L1567.82 323.31 L1569.98 321.46 L1572.13 319.62 L1574.28 317.78 L1576.44 315.96 L1578.59 314.15 L1580.74 312.35 L1582.89 310.55 L1585.05 308.77 L1587.2 307 L1589.35 305.24 L1591.5 303.49 L1593.66 301.74 L1595.81 300.01 L1597.96 298.29 L1600.12 296.58 L1602.27 294.88 L1604.42 293.19 L1606.57 291.51 L1608.73 289.84 L1610.88 288.18 L1613.03 286.53 L1615.18 284.89 L1617.34 283.26 L1619.49 281.64 L1621.64 280.03 L1623.8 278.43 L1625.95 276.84 L1628.1 275.26 L1630.25 273.69 L1632.41 272.13 L1634.56 270.58 L1636.71 269.04 L1638.87 267.51 L1641.02 265.98 L1643.17 264.47 L1645.32 262.96 L1647.48 261.47 L1649.63 259.98 L1651.78 258.5 L1653.93 257.03 L1656.09 255.57 L1658.24 254.12 L1660.39 252.68 L1662.55 251.24 L1664.7 249.82 L1666.85 248.4 L1669 246.99 L1671.16 245.58 L1673.31 244.19 L1675.46 242.8 L1677.62 241.42 L1679.77 240.05 L1681.92 238.69 L1684.07 237.33 L1686.23 235.98 L1688.38 234.64 L1690.53 233.3 L1692.68 231.97 L1694.84 230.65 L1696.99 229.33 L1699.14 228.02 L1701.3 226.72 L1703.45 225.43 L1705.6 224.14 L1707.75 222.85 L1709.91 221.58 L1712.06 220.31 L1714.21 219.04 L1716.36 217.78 L1718.52 216.53 L1720.67 215.28 L1722.82 214.04 L1724.98 212.8 L1727.13 211.57 L1729.28 210.35 L1731.43 209.13 L1733.59 207.92 L1735.74 206.71 L1737.89 205.51 L1740.05 204.31 L1742.2 203.12 L1744.35 201.93 L1746.5 200.75 L1748.66 199.58 L1750.81 198.41 L1752.96 197.25 L1755.11 196.09 L1757.27 194.93 L1759.42 193.79 L1761.57 192.64 L1763.73 191.51 L1765.88 190.38 L1768.03 189.25 L1770.18 188.13 L1772.34 187.02 L1774.49 185.91 L1776.64 184.81 L1778.79 183.71 L1780.95 182.62 L1783.1 181.54 L1785.25 180.47 L1787.41 179.4 L1789.56 178.33 L1791.71 177.28 L1793.86 176.23 L1796.02 175.19 L1798.17 174.15 L1800.32 173.13 L1802.48 172.11 L1804.63 171.1 L1806.78 170.09 L1808.93 169.1 L1811.09 168.12 L1813.24 167.14 L1815.39 166.17 L1817.54 165.22 L1819.7 164.27 L1821.85 163.33 L1824 162.4 L1826.16 161.49 L1828.31 160.58 L1830.46 159.69 L1832.61 158.81 L1834.77 157.94 L1836.92 157.09 L1839.07 156.24 L1841.23 155.41 L1843.38 154.6 L1845.53 153.8 L1847.68 153.01 L1849.84 152.24 L1851.99 151.49 L1854.14 150.75 L1856.29 150.02 L1858.45 149.32 L1860.6 148.63"/>
<circle cx="1492.5" cy="630.5" r="9.05" fill="#000" stroke="#fff" stroke-width=".9"/>
</g>
<path class="tick" d="M1431.9 656 v9M1538.9 656 v9M1645.9 656 v9M1752.9 656 v9M1859.9 656 v9M1410 78 h-9M1410 162.17 h-9M1410 246.33 h-9M1410 330.5 h-9M1410 414.67 h-9M1410 498.83 h-9M1410 583 h-9"/>
<rect class="spine" x="1410" y="72" width="472" height="584"/>
</g>
<g id="legend">
<rect x="160.67" y="82.47" width="238.67" height="67.73" rx="4.27" ry="4.27" fill="#fff" fill-opacity=".8" stroke="#ccc" stroke-opacity=".8" stroke-width="2.67"/>
<path class="mean" d="M169.6 99.45H211.5"/>
<path class="true" d="M169.2 130.1H211"/>
</g>
<g id="labels" opacity=".999">
<text transform="translate(0 55.67) scale(1.0419 1.0204)" font-size="32" x="301.91 326.63 345.31 361.19 370.08 381.14 400.46 420.62">Obs. 654</text>
<text transform="translate(0 730.72) scale(1.1206 1.0465)" font-size="26.67" x="336.62">u</text>
<text transform="translate(47.79 410) rotate(-90) scale(1.0570 0.9410)" font-size="26.67" x="-1.2 7.61 18.14 34.14 41.55 50.1 65.76 77.81">f(u, x*)</text>
<text transform="translate(0 694.71) scale(1.0759 1.0919)" font-size="26.67" x="123.35 142.21 157.52 165.48 181.24">−0.50</text>
<text transform="translate(0 694.71) scale(1.0613 1.0919)" font-size="26.67" x="225.89 245.08 260.56 268.2 283.87">−0.25</text>
<text transform="translate(0 694.71) scale(1.0759 1.0919)" font-size="26.67" x="332.74 347.13 355.05 370.85">0.00</text>
<text transform="translate(0 694.71) scale(1.0026 1.0919)" font-size="26.67" x="463.86 479.5 487.8 504.75">0.25</text>
<text transform="translate(0 694.71) scale(1.0026 1.0919)" font-size="26.67" x="570.58 586.21 594.52 612.4">0.50</text>
<text transform="translate(0 652.71) scale(1.0759 1.0919)" font-size="26.67" x="63.87 82.29 98.04 105.96">−2.0</text>
<text transform="translate(0 574.71) scale(1.0145 1.0753)" font-size="26.67" x="67.82 87.85 104.21 112.3">−1.5</text>
<text transform="translate(0 495.71) scale(1.0759 1.0919)" font-size="26.67" x="63.87 82.39 98.04 105.96">−1.0</text>
<text transform="translate(0 417.71) scale(1.0759 1.0919)" font-size="26.67" x="63.87 82.72 98.04 105.1">−0.5</text>
<text transform="translate(0 339.71) scale(1.0366 1.0919)" font-size="26.67" x="86.86 101.9 110.49">0.0</text>
<text transform="translate(0 260.71) scale(1.0000 1.0919)" font-size="26.67" x="90.08 105.77 114.12">0.5</text>
<text transform="translate(0 182.71) scale(1.0452 1.0919)" font-size="26.67" x="86.17 101.03 109.48">1.0</text>
<text transform="translate(0 104.71) scale(1.0085 1.0753)" font-size="26.67" x="89.37 104.84 113.03">1.5</text>
<text transform="translate(0 106.78) scale(1.0762 1.0204)" font-size="21.33" x="213.03 226.24 237.75 248.56 254.72 267.69 275 280.25 292.78 299.88 307.49 326.24 337.47 350.87">Posterior mean</text>
<text transform="translate(228.47 137.78) scale(1.1008 1.0239)" font-size="21.33">True f</text>
<text transform="translate(0 55.67) scale(1.0608 1.0204)" font-size="32" x="899.82 923.97 942.34 957.99 966.88 977.63 996.91">Obs. 89</text>
<text transform="translate(0 730.72) scale(1.1206 1.0465)" font-size="26.67" x="898.82">u</text>
<text transform="translate(677.79 410) rotate(-90) scale(1.0570 0.9410)" font-size="26.67" x="-1.2 7.61 18.14 34.14 41.55 50.1 65.76 77.81">f(u, x*)</text>
<text transform="translate(0 694.71) scale(1.0759 1.0919)" font-size="26.67" x="708.9 727.75 743.07 751.02 766.79">−0.50</text>
<text transform="translate(0 694.71) scale(1.0613 1.0919)" font-size="26.67" x="819.49 838.69 854.17 861.81 877.48">−0.25</text>
<text transform="translate(0 694.71) scale(1.0759 1.0919)" font-size="26.67" x="918.29 932.68 940.6 956.4">0.00</text>
<text transform="translate(0 694.71) scale(1.0026 1.0919)" font-size="26.67" x="1092.21 1107.84 1116.14 1133.1">0.25</text>
<text transform="translate(0 694.71) scale(1.0026 1.0919)" font-size="26.67" x="1198.93 1214.56 1222.86 1240.75">0.50</text>
<text transform="translate(0 638.71) scale(1.0759 1.0919)" font-size="26.67" x="650.34 668.87 684.52 692.44">−1.0</text>
<text transform="translate(0 536.71) scale(1.0759 1.0919)" font-size="26.67" x="650.34 669.2 684.52 691.57">−0.5</text>
<text transform="translate(0 434.71) scale(1.0366 1.0919)" font-size="26.67" x="695.55 710.59 719.19">0.0</text>
<text transform="translate(0 333.71) scale(1.0000 1.0919)" font-size="26.67" x="721.08 736.76 745.11">0.5</text>
<text transform="translate(0 231.71) scale(1.0452 1.0919)" font-size="26.67" x="689.89 704.75 713.2">1.0</text>
<text transform="translate(0 129.71) scale(1.0085 1.0753)" font-size="26.67" x="715.03 730.5 738.69">1.5</text>
<text transform="translate(0 55.67) scale(1.0240 1.0204)" font-size="32" x="1537.62 1562.92 1581.9 1597.99 1606.88 1618.45 1638.47 1658.19">Obs. 773</text>
<text transform="translate(0 730.72) scale(1.1206 1.0465)" font-size="26.67" x="1461.92">u</text>
<text transform="translate(1307.79 410) rotate(-90) scale(1.0570 0.9410)" font-size="26.67" x="-1.2 7.61 18.14 34.14 41.55 50.1 65.76 77.81">f(u, x*)</text>
<text transform="translate(0 694.71) scale(1.0759 1.0919)" font-size="26.67" x="1295.38 1314.23 1329.55 1337.5 1353.27">−0.50</text>
<text transform="translate(0 694.71) scale(1.0613 1.0919)" font-size="26.67" x="1414.04 1433.24 1448.72 1456.36 1472.03">−0.25</text>
<text transform="translate(0 694.71) scale(1.0759 1.0919)" font-size="26.67" x="1503.84 1518.23 1526.14 1541.94">0.00</text>
<text transform="translate(0 694.71) scale(1.0026 1.0919)" font-size="26.67" x="1720.55 1736.19 1744.49 1761.45">0.25</text>
<text transform="translate(0 694.71) scale(1.0026 1.0919)" font-size="26.67" x="1827.27 1842.91 1851.21 1869.1">0.50</text>
<text transform="translate(0 592.71) scale(1.1108 1.0919)" font-size="26.67" x="1197.03 1215.1 1230.05 1237.54">−0.6</text>
<text transform="translate(0 508.71) scale(1.0759 1.0919)" font-size="26.67" x="1235.89 1254.75 1270.06 1277.72">−0.4</text>
<text transform="translate(0 424.71) scale(1.0759 1.0919)" font-size="26.67" x="1235.89 1254.75 1270.06 1277.39">−0.2</text>
<text transform="translate(0 339.71) scale(1.0366 1.0919)" font-size="26.67" x="1303.28 1318.31 1326.91">0.0</text>
<text transform="translate(0 255.71) scale(1.0220 1.0919)" font-size="26.67" x="1321.92 1337.21 1345.43">0.2</text>
<text transform="translate(0 171.71) scale(1.0445 1.0919)" font-size="26.67" x="1293.5 1308.4 1316.59">0.4</text>
<text transform="translate(0 87.71) scale(1.0541 1.0919)" font-size="26.67" x="1281.69 1296.43 1304.86">0.6</text>
</g>
</svg>
</body></html>
